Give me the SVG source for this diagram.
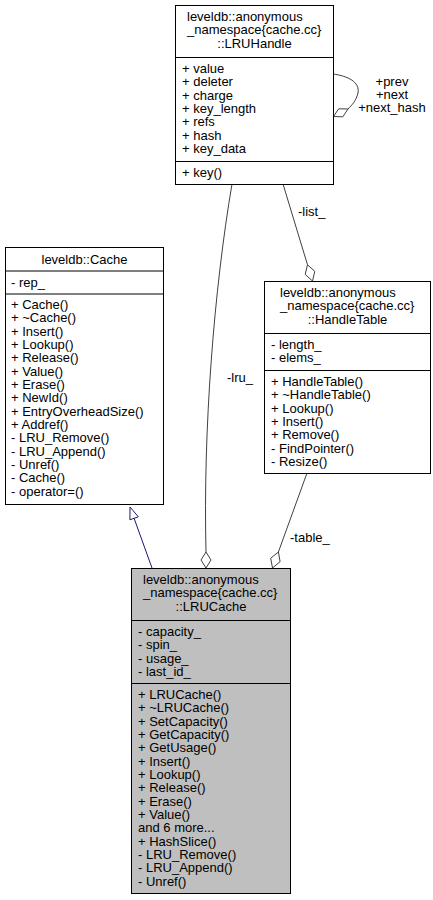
<svg xmlns="http://www.w3.org/2000/svg" width="433" height="900" viewBox="0 0 433 900">
  <style>
    text { font-family: "Liberation Sans", Arial, Helvetica, sans-serif; font-size: 13px; fill: #000; }
    .mid { text-anchor: middle; }
    .box { fill: #fff; stroke: #000; stroke-width: 1; }
    .cur { fill: #bfbfbf; stroke: #000; stroke-width: 1; }
    .sep { stroke: #000; stroke-width: 1; }
    .use { fill: none; stroke: #404040; stroke-width: 1; }
    .dia { fill: #fff; stroke: #404040; stroke-width: 1; }
    .inh { fill: none; stroke: #191970; stroke-width: 1; }
    .tri { fill: #fff; stroke: #191970; stroke-width: 1; }
    .lbl { fill: #000; }
  </style>
  <rect width="433" height="900" fill="#fff"/>

  <!-- connectors -->
  <g id="edges">
    <!-- LRUCache inherits leveldb::Cache -->
    <path class="inh" d="M152,568 L134.1,518.3"/>
    <polygon class="tri" points="130,507 138.3,516.8 129.9,519.8"/>

    <!-- -lru_ : LRUHandle -> LRUCache -->
    <path class="use" d="M232,184 C214,290 203,430 206,552"/>
    <polygon class="dia" points="206,552 211,560 206,568 201,560"/>
    <text class="lbl" x="227" y="382">-lru_</text>

    <!-- -list_ : LRUHandle -> HandleTable -->
    <path class="use" d="M283,184 L307.5,264.8"/>
    <polygon class="dia" points="307.5,264.8 314.8,271.4 312.5,281 305.2,274.4"/>
    <text class="lbl" x="298" y="216">-list_</text>

    <!-- -table_ : HandleTable -> LRUCache -->
    <path class="use" d="M307,473 L278.4,552"/>
    <polygon class="dia" points="278.4,552 280.1,561.7 272.5,568 270.7,558.3"/>
    <text class="lbl" x="290" y="542">-table_</text>

    <!-- self reference on LRUHandle -->
    <path class="use" d="M333,74 C348,76 360,82 358,93 C356,101 352,105 348,109"/>
    <polygon class="dia" points="348,109 342.8,116.8 333.5,116.5 338.7,108.8"/>
    <text class="lbl mid" x="392" y="86">+prev</text>
    <text class="lbl mid" x="392" y="99">+next</text>
    <text class="lbl mid" x="392" y="112">+next_hash</text>
  </g>

  <!-- leveldb::anonymous_namespace{cache.cc}::LRUHandle -->
  <g id="node-lruhandle">
    <rect class="box" x="175.5" y="5.5" width="158" height="179"/>
    <line class="sep" x1="175.5" y1="57.5" x2="333.5" y2="57.5"/>
    <line class="sep" x1="175.5" y1="161.5" x2="333.5" y2="161.5"/>
    <text x="187" y="21">leveldb::anonymous</text>
    <text x="187" y="34">_namespace{cache.cc}</text>
    <text class="mid" x="254.5" y="47.5">::LRUHandle</text>
    <text x="182" y="73">+ value</text>
    <text x="182" y="86.3">+ deleter</text>
    <text x="182" y="99.6">+ charge</text>
    <text x="182" y="113">+ key_length</text>
    <text x="182" y="126.3">+ refs</text>
    <text x="182" y="139.6">+ hash</text>
    <text x="182" y="153">+ key_data</text>
    <text x="182" y="177">+ key()</text>
  </g>

  <!-- leveldb::Cache -->
  <g id="node-cache">
    <rect class="box" x="5.5" y="247.5" width="158" height="257"/>
    <line class="sep" x1="5.5" y1="271" x2="163.5" y2="271"/>
    <line class="sep" x1="5.5" y1="294" x2="163.5" y2="294"/>
    <text class="mid" x="84.5" y="264">leveldb::Cache</text>
    <text x="11" y="287">- rep_</text>
    <text x="11" y="309">+ Cache()</text>
    <text x="11" y="322.3">+ ~Cache()</text>
    <text x="11" y="335.6">+ Insert()</text>
    <text x="11" y="349">+ Lookup()</text>
    <text x="11" y="362.3">+ Release()</text>
    <text x="11" y="375.6">+ Value()</text>
    <text x="11" y="389">+ Erase()</text>
    <text x="11" y="402.3">+ NewId()</text>
    <text x="11" y="415.6">+ EntryOverheadSize()</text>
    <text x="11" y="429">+ Addref()</text>
    <text x="11" y="442.3">- LRU_Remove()</text>
    <text x="11" y="455.6">- LRU_Append()</text>
    <text x="11" y="469">- Unref()</text>
    <text x="11" y="482.3">- Cache()</text>
    <text x="11" y="495.6">- operator=()</text>
  </g>

  <!-- leveldb::anonymous_namespace{cache.cc}::HandleTable -->
  <g id="node-handletable">
    <rect class="box" x="264.5" y="281.5" width="166" height="192"/>
    <line class="sep" x1="264.5" y1="333.5" x2="430.5" y2="333.5"/>
    <line class="sep" x1="264.5" y1="370.5" x2="430.5" y2="370.5"/>
    <text x="280" y="297">leveldb::anonymous</text>
    <text x="280" y="310">_namespace{cache.cc}</text>
    <text class="mid" x="347.5" y="323.5">::HandleTable</text>
    <text x="271" y="349">- length_</text>
    <text x="271" y="362.3">- elems_</text>
    <text x="271" y="386">+ HandleTable()</text>
    <text x="271" y="399.3">+ ~HandleTable()</text>
    <text x="271" y="412.6">+ Lookup()</text>
    <text x="271" y="426">+ Insert()</text>
    <text x="271" y="439.3">+ Remove()</text>
    <text x="271" y="452.6">- FindPointer()</text>
    <text x="271" y="466">- Resize()</text>
  </g>

  <!-- leveldb::anonymous_namespace{cache.cc}::LRUCache -->
  <g id="node-lrucache">
    <rect class="cur" x="131.5" y="568.5" width="159" height="325"/>
    <line class="sep" x1="131.5" y1="620.5" x2="290.5" y2="620.5"/>
    <line class="sep" x1="131.5" y1="683.5" x2="290.5" y2="683.5"/>
    <text x="143" y="584">leveldb::anonymous</text>
    <text x="143" y="597">_namespace{cache.cc}</text>
    <text class="mid" x="211" y="610.5">::LRUCache</text>
    <text x="138" y="636">- capacity_</text>
    <text x="138" y="649.3">- spin_</text>
    <text x="138" y="662.6">- usage_</text>
    <text x="138" y="676">- last_id_</text>
    <text x="138" y="699">+ LRUCache()</text>
    <text x="138" y="712.3">+ ~LRUCache()</text>
    <text x="138" y="725.6">+ SetCapacity()</text>
    <text x="138" y="739">+ GetCapacity()</text>
    <text x="138" y="752.3">+ GetUsage()</text>
    <text x="138" y="765.6">+ Insert()</text>
    <text x="138" y="779">+ Lookup()</text>
    <text x="138" y="792.3">+ Release()</text>
    <text x="138" y="805.6">+ Erase()</text>
    <text x="138" y="819">+ Value()</text>
    <text x="138" y="832.3">and 6 more...</text>
    <text x="138" y="845.6">+ HashSlice()</text>
    <text x="138" y="859">- LRU_Remove()</text>
    <text x="138" y="872.3">- LRU_Append()</text>
    <text x="138" y="885.6">- Unref()</text>
  </g>
</svg>
